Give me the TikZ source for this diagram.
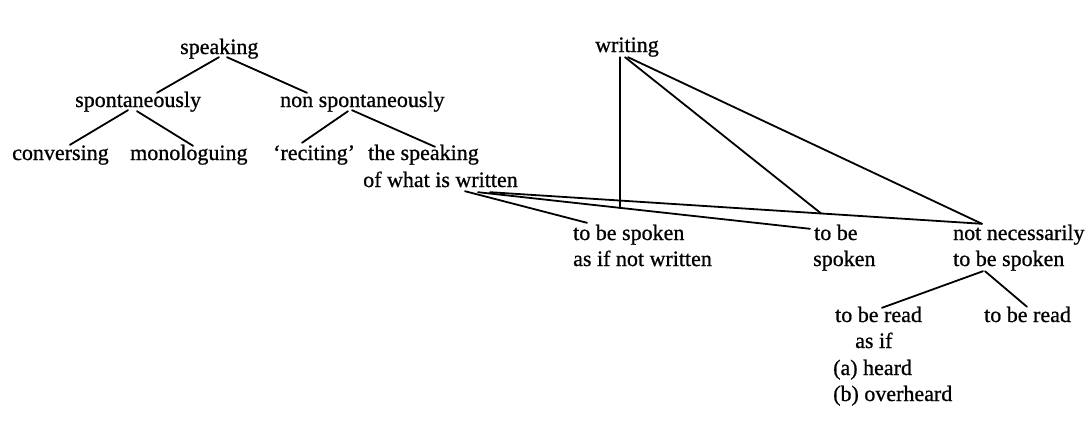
\documentclass[tikz,border=0pt]{standalone}
\usepackage{fontspec}
\setmainfont{Liberation Serif}[FakeBold=0.8]
\begin{document}
\begin{tikzpicture}[x=1pt,y=-1pt,
  txt/.style={font=\fontsize{22}{27}\selectfont, inner sep=0pt, anchor=base west, text height=15pt, text depth=5pt},
  link/.style={line width=1.8pt, line cap=round}]
\useasboundingbox (0,0) rectangle (1090,423);
\fill[white] (0,0) rectangle (1090,423);

% speaking tree
\node[txt] (speaking) at (180,54) {speaking};
\node[txt] (spont) at (75,107) {spontaneously};
\node[txt] (nonspont) at (280,107) {non spontaneously};
\node[txt] (conv) at (12,160) {conversing};
\node[txt] (mono) at (130,160) {monologuing};
\node[txt] (recit) at (273,160) {`reciting'};
\node[txt] (thesp) at (368,160) {the speaking};
\node[txt] (ofwhat) at (363,187) {of what is written};

% writing tree
\node[txt] (writing) at (595,52) {writing};
\node[txt] (tbs) at (573,240) {to be spoken};
\node[txt] (asifnw) at (573,266) {as if not written};
\node[txt] (tobe) at (814,240) {to be};
\node[txt] (tobesp) at (813,266) {spoken};
\node[txt] (notnec) at (953,240) {not necessarily};
\node[txt] (notnec2) at (953,266) {to be spoken};
\node[txt] (readL) at (835,322) {to be read};
\node[txt] (asif) at (855,348) {as if};
\node[txt] (heard) at (833,375) {(a) heard};
\node[txt] (overheard) at (833,401) {(b) overheard};
\node[txt] (readR) at (984,322) {to be read};

% connectors, speaking
\draw[link] ([xshift=39pt,yshift=2pt]speaking.south west) -- ([xshift=82pt,yshift=-1pt]spont.north west);
\draw[link] ([xshift=47pt,yshift=2pt]speaking.south west) -- ([xshift=27pt,yshift=-1pt]nonspont.north west);
\draw[link] ([xshift=53pt,yshift=2pt]spont.south west) -- ([xshift=58pt]conv.north west);
\draw[link] ([xshift=62pt,yshift=1pt]spont.south west) -- ([xshift=63pt,yshift=-1pt]mono.north west);
\draw[link] ([xshift=68pt,yshift=1pt]nonspont.south west) -- ([xshift=29pt,yshift=2pt]recit.north west);
\draw[link] ([xshift=72pt,yshift=2pt]nonspont.south west) -- ([xshift=67pt,yshift=-2pt]thesp.north west);

% fan from "of what is written"
\draw[link] ([xshift=102pt,yshift=1pt]ofwhat.south west) -- ([xshift=14pt,yshift=2pt]tbs.north west);
\draw[link] ([xshift=115pt]ofwhat.south west) -- coordinate[pos=0.428] (vb) ([xshift=-4pt,yshift=-4pt]tobe.north west);
\draw[link] ([xshift=127pt]ofwhat.south west) -- coordinate[pos=0.673] (j1) ([xshift=29pt,yshift=1pt]notnec.north west);

% connectors, writing
\draw[link] (vb |- writing.south) -- (vb);
\draw[link] ([xshift=30pt]writing.south west) -- (j1);
\draw[link] ([xshift=33pt]writing.south west) -- ([xshift=29pt,yshift=1pt]notnec.north west);

% not necessarily to be spoken
\draw[link] ([xshift=30pt]notnec2.south west) -- ([xshift=47pt,yshift=-1pt]readL.north west);
\draw[link] ([xshift=32pt]notnec2.south west) -- ([xshift=43pt]readR.north west);
\end{tikzpicture}
\end{document}
